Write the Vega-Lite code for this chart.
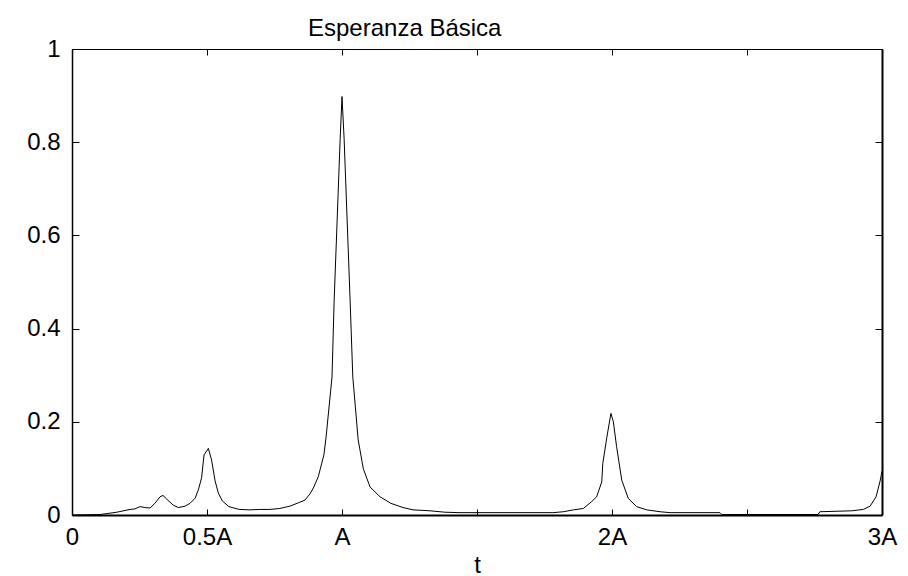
{
  "$schema": "https://vega.github.io/schema/vega-lite/v6.json",
  "width": 810,
  "height": 466,
  "autosize": {"type": "none"},
  "padding": {"left": 72, "top": 49, "right": 26, "bottom": 61},
  "background": "white",
  "config": {
    "font": "Liberation Sans",
    "view": {"stroke": null},
    "axis": {"grid": false, "labelFont": "Liberation Sans", "titleFont": "Liberation Sans", "labelColor": "black", "titleColor": "black", "domainColor": "black", "tickColor": "black", "labelFontSize": 24, "titleFontSize": 24, "titleFontWeight": "normal"}
  },
  "title": {"text": "Esperanza Básica", "anchor": "start", "frame": "group", "dx": 236, "offset": -23, "baseline": "alphabetic", "fontSize": 24, "fontWeight": "normal", "font": "Liberation Sans", "color": "black"},
  "data": {"values": [
    {"t": 0.0, "y": 0.0},
    {"t": 0.104, "y": 0.001},
    {"t": 0.166, "y": 0.006},
    {"t": 0.215, "y": 0.012},
    {"t": 0.233, "y": 0.013},
    {"t": 0.252, "y": 0.018},
    {"t": 0.270, "y": 0.016},
    {"t": 0.289, "y": 0.015},
    {"t": 0.307, "y": 0.025},
    {"t": 0.326, "y": 0.039},
    {"t": 0.337, "y": 0.042},
    {"t": 0.351, "y": 0.034},
    {"t": 0.375, "y": 0.021},
    {"t": 0.394, "y": 0.016},
    {"t": 0.419, "y": 0.019},
    {"t": 0.437, "y": 0.025},
    {"t": 0.456, "y": 0.036},
    {"t": 0.468, "y": 0.054},
    {"t": 0.480, "y": 0.08},
    {"t": 0.489, "y": 0.129},
    {"t": 0.505, "y": 0.143},
    {"t": 0.517, "y": 0.118},
    {"t": 0.530, "y": 0.073},
    {"t": 0.542, "y": 0.047},
    {"t": 0.557, "y": 0.030},
    {"t": 0.581, "y": 0.018},
    {"t": 0.619, "y": 0.012},
    {"t": 0.659, "y": 0.011},
    {"t": 0.696, "y": 0.012},
    {"t": 0.733, "y": 0.012},
    {"t": 0.770, "y": 0.014},
    {"t": 0.807, "y": 0.019},
    {"t": 0.838, "y": 0.026},
    {"t": 0.863, "y": 0.032},
    {"t": 0.881, "y": 0.045},
    {"t": 0.894, "y": 0.058},
    {"t": 0.912, "y": 0.082},
    {"t": 0.933, "y": 0.129},
    {"t": 0.941, "y": 0.167},
    {"t": 0.963, "y": 0.296},
    {"t": 0.971, "y": 0.461},
    {"t": 0.993, "y": 0.805},
    {"t": 1.000, "y": 0.898},
    {"t": 1.008, "y": 0.805},
    {"t": 1.030, "y": 0.461},
    {"t": 1.040, "y": 0.296},
    {"t": 1.060, "y": 0.161},
    {"t": 1.079, "y": 0.099},
    {"t": 1.104, "y": 0.060},
    {"t": 1.141, "y": 0.039},
    {"t": 1.181, "y": 0.025},
    {"t": 1.226, "y": 0.016},
    {"t": 1.263, "y": 0.011},
    {"t": 1.326, "y": 0.009},
    {"t": 1.381, "y": 0.006},
    {"t": 1.437, "y": 0.005},
    {"t": 1.781, "y": 0.005},
    {"t": 1.820, "y": 0.007},
    {"t": 1.857, "y": 0.011},
    {"t": 1.894, "y": 0.014},
    {"t": 1.925, "y": 0.029},
    {"t": 1.943, "y": 0.039},
    {"t": 1.962, "y": 0.071},
    {"t": 1.966, "y": 0.111},
    {"t": 1.981, "y": 0.167},
    {"t": 1.996, "y": 0.218},
    {"t": 2.005, "y": 0.200},
    {"t": 2.017, "y": 0.147},
    {"t": 2.036, "y": 0.075},
    {"t": 2.060, "y": 0.036},
    {"t": 2.091, "y": 0.018},
    {"t": 2.129, "y": 0.011},
    {"t": 2.178, "y": 0.007},
    {"t": 2.215, "y": 0.005},
    {"t": 2.400, "y": 0.005},
    {"t": 2.407, "y": 0.001},
    {"t": 2.763, "y": 0.001},
    {"t": 2.770, "y": 0.007},
    {"t": 2.888, "y": 0.009},
    {"t": 2.931, "y": 0.012},
    {"t": 2.956, "y": 0.019},
    {"t": 2.978, "y": 0.039},
    {"t": 2.993, "y": 0.073},
    {"t": 3.000, "y": 0.094}
  ]},
  "layer": [
    {
      "mark": {"type": "line", "color": "black", "strokeWidth": 1, "clip": true},
      "encoding": {
        "x": {"field": "t", "type": "quantitative", "scale": {"domain": [0, 3], "nice": false, "zero": false},
          "axis": {"orient": "bottom", "title": "t", "values": [0, 0.5, 1, 1.5, 2, 2.5, 3],
            "labelExpr": "datum.value == 0 ? '0' : datum.value == 0.5 ? '0.5A' : datum.value == 1 ? 'A' : datum.value == 2 ? '2A' : datum.value == 3 ? '3A' : ''",
            "tickSize": -6, "labelPadding": 16, "labelFlush": false, "labelOverlap": false, "domainWidth": 2, "titlePadding": 4}},
        "y": {"field": "y", "type": "quantitative", "scale": {"domain": [0, 1], "nice": false},
          "axis": {"orient": "left", "title": null, "values": [0, 0.2, 0.4, 0.6, 0.8, 1], "format": ".1~f", "tickSize": -7, "labelPadding": 19, "labelFlush": false, "labelOverlap": false, "domainWidth": 1.5, "labelBaseline": "middle"}}
      }
    },
    {
      "mark": {"type": "line", "opacity": 0},
      "encoding": {
        "x": {"field": "t", "type": "quantitative", "scale": {"domain": [0, 3], "nice": false, "zero": false},
          "axis": {"orient": "top", "title": null, "values": [0, 0.5, 1, 1.5, 2, 2.5, 3], "labels": false, "tickSize": -6, "domainWidth": 1}},
        "y": {"field": "y", "type": "quantitative", "scale": {"domain": [0, 1], "nice": false},
          "axis": {"orient": "right", "title": null, "values": [0, 0.2, 0.4, 0.6, 0.8, 1], "labels": false, "tickSize": -7, "domainWidth": 2}}
      }
    }
  ],
  "resolve": {"axis": {"x": "independent", "y": "independent"}}
}
